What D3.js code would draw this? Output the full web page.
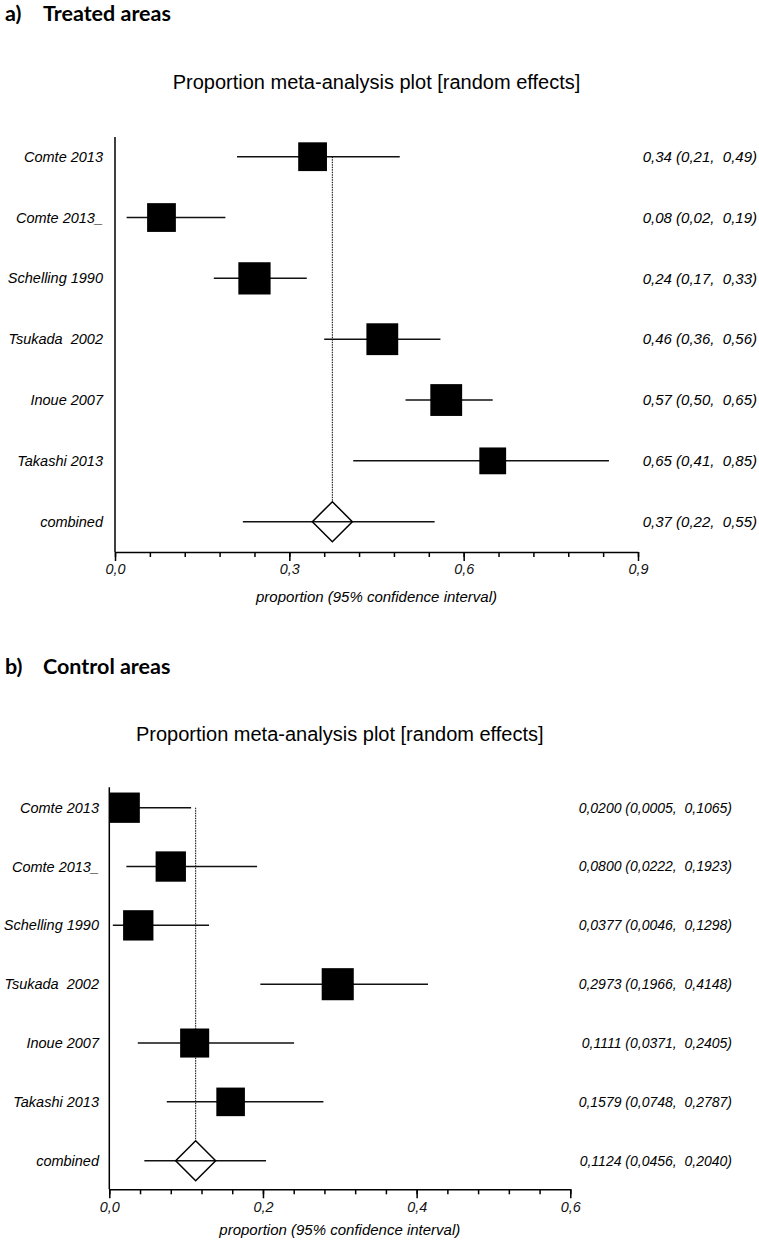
<!DOCTYPE html>
<html>
<head>
<meta charset="utf-8">
<script src="https://cdn.jsdelivr.net/npm/d3@7"></script>
<style>
body { margin: 0; background: #fff; }
text { font-family: "Liberation Sans", Arial, sans-serif; }
.lbl { white-space: pre; }
</style>
</head>
<body>
<svg width="759" height="1240"></svg>
<script>
// study names, same for both panels
const studies = ["Comte 2013", "Comte 2013_", "Schelling 1990", "Tsukada  2002", "Inoue 2007", "Takashi 2013", "combined"];

// a) treated areas
const treatedEst = [0.34, 0.08, 0.24, 0.46, 0.57, 0.65, 0.374];
const treatedLow = [0.21, 0.02, 0.17, 0.36, 0.50, 0.41, 0.22];
const treatedHigh = [0.49, 0.19, 0.33, 0.56, 0.65, 0.85, 0.55];
const treatedWeight = [15.2, 15.2, 19.1, 18.6, 18.6, 13.2];
const treatedTicks = [0, 0.3, 0.6, 0.9];

// b) control areas
const controlEst = [0.0200, 0.0800, 0.0377, 0.2973, 0.1111, 0.1579, 0.1124];
const controlLow = [0.0005, 0.0222, 0.0046, 0.1966, 0.0371, 0.0748, 0.0456];
const controlHigh = [0.1065, 0.1923, 0.1298, 0.4148, 0.2405, 0.2787, 0.2040];
const controlWeight = [16.9, 16.9, 16.9, 18.9, 15.5, 15.0];
const controlTicks = [0, 0.2, 0.4, 0.6];

const svg = d3.select('svg');
const boxSize = d3.scaleSqrt().domain([0, 20]).range([0, 33]);
const comma = dec => v => d3.format('.' + dec + 'f')(v).replace('.', ',');

const renderPanel = p => {
    const g = svg.append('g');
    const x = d3.scaleLinear().domain([0, p.ticks[p.ticks.length - 1]]).range([p.left, p.right]);
    const y = d3.scalePoint().domain(studies).range([p.rowTop, p.rowBottom]);
    const fmt = comma(p.dec);
    const rows = studies.map((s, i) => ({ name: s, est: p.est[i], lo: p.lo[i], hi: p.hi[i], w: p.weight[i] }));
    const pooled = rows[rows.length - 1];

    // headings
    g.append('text').attr('x', 5).attr('y', p.headY)
        .style('font-family', 'Lato, sans-serif').style('font-weight', 'bold').style('font-size', '21.5px')
        .text(p.letter);
    g.append('text').attr('x', 43).attr('y', p.headY)
        .style('font-family', 'Lato, sans-serif').style('font-weight', 'bold').style('font-size', '21.5px')
        .text(p.heading);
    g.append('text').attr('x', (p.left + p.right) / 2).attr('y', p.titleY)
        .attr('text-anchor', 'middle').style('font-size', '20px')
        .text('Proportion meta-analysis plot [random effects]');

    // pooled estimate reference line
    g.append('line')
        .attr('x1', x(pooled.est)).attr('x2', x(pooled.est))
        .attr('y1', p.rowTop).attr('y2', y(pooled.name) - 20)
        .attr('stroke', '#000').attr('stroke-width', 1).attr('stroke-dasharray', '1.5,1');

    // confidence intervals
    g.selectAll('.ci').data(rows).enter().append('line')
        .attr('x1', d => x(d.lo)).attr('x2', d => x(d.hi))
        .attr('y1', d => y(d.name)).attr('y2', d => y(d.name))
        .attr('stroke', '#111').attr('stroke-width', 1.5);

    // study boxes
    g.selectAll('.box').data(rows.slice(0, -1)).enter().append('rect')
        .attr('x', d => x(d.est) - boxSize(d.w) / 2)
        .attr('y', d => y(d.name) - boxSize(d.w) / 2)
        .attr('width', d => boxSize(d.w))
        .attr('height', d => boxSize(d.w))
        .attr('fill', '#000');

    // combined diamond
    const cx = x(pooled.est), cy = y(pooled.name);
    g.append('path')
        .attr('d', `M${cx},${cy - 20}L${cx + 20},${cy}L${cx},${cy + 20}L${cx - 20},${cy}Z`)
        .attr('fill', 'none').attr('stroke', '#000').attr('stroke-width', 1.5);

    // study labels
    g.selectAll('.name').data(rows).enter().append('text')
        .attr('class', 'lbl')
        .attr('x', p.labelX).attr('y', d => y(d.name)).attr('dy', '0.35em')
        .attr('text-anchor', 'end').style('font-style', 'italic').style('font-size', '14.5px')
        .text(d => d.name);

    // estimate labels
    g.selectAll('.val').data(rows).enter().append('text')
        .attr('class', 'lbl')
        .attr('x', p.valueX).attr('y', d => y(d.name)).attr('dy', '0.35em')
        .attr('text-anchor', 'end').style('font-style', 'italic').style('font-size', p.valueSize + 'px')
        .text(d => `${fmt(d.est)} (${fmt(d.lo)},  ${fmt(d.hi)})`);

    // y axis line
    g.append('line')
        .attr('x1', p.left).attr('x2', p.left).attr('y1', p.top).attr('y2', p.axisY)
        .attr('stroke', '#000').attr('stroke-width', 1.5);

    // x axis: minor ticks then major ticks with labels
    const step = p.ticks[1] / 5;
    const minor = d3.range(0, p.ticks[p.ticks.length - 1] + step / 2, step);
    g.append('g').attr('transform', `translate(0,${p.axisY})`)
        .call(d3.axisBottom(x).tickValues(minor).tickSize(5).tickSizeOuter(0).tickFormat(''))
        .call(a => a.select('.domain').remove())
        .call(a => a.selectAll('line').attr('stroke-width', 1.5));
    g.append('g').attr('transform', `translate(0,${p.axisY})`)
        .call(d3.axisBottom(x).tickValues(p.ticks).tickSize(9).tickSizeOuter(0).tickPadding(3).tickFormat(comma(1)))
        .call(a => a.select('.domain').attr('stroke-width', 1.5))
        .call(a => a.selectAll('line').attr('stroke-width', 1.5))
        .call(a => a.selectAll('text')
            .style('font-family', '"Liberation Sans", Arial, sans-serif')
            .style('font-style', 'italic').style('font-size', '14.4px').attr('fill', '#111'));

    g.append('text').attr('x', (p.left + p.right) / 2).attr('y', p.axisY + p.titleGap)
        .attr('text-anchor', 'middle').style('font-style', 'italic').style('font-size', '15px')
        .text('proportion (95% confidence interval)');
};

renderPanel({
    letter: 'a)', heading: 'Treated areas', headY: 21, titleY: 89,
    left: 115, right: 638, top: 137, axisY: 552, rowTop: 156.7, rowBottom: 521.7,
    labelX: 103, valueX: 757, valueSize: 15, dec: 2, ticks: treatedTicks, titleGap: 50,
    est: treatedEst, lo: treatedLow, hi: treatedHigh, weight: treatedWeight
});

renderPanel({
    letter: 'b)', heading: 'Control areas', headY: 674, titleY: 741,
    left: 109.3, right: 570.3, top: 787.3, axisY: 1189.3, rowTop: 807.7, rowBottom: 1160.7,
    labelX: 99, valueX: 732, valueSize: 14, dec: 4, ticks: controlTicks, titleGap: 46,
    est: controlEst, lo: controlLow, hi: controlHigh, weight: controlWeight
});
</script>
</body>
</html>
